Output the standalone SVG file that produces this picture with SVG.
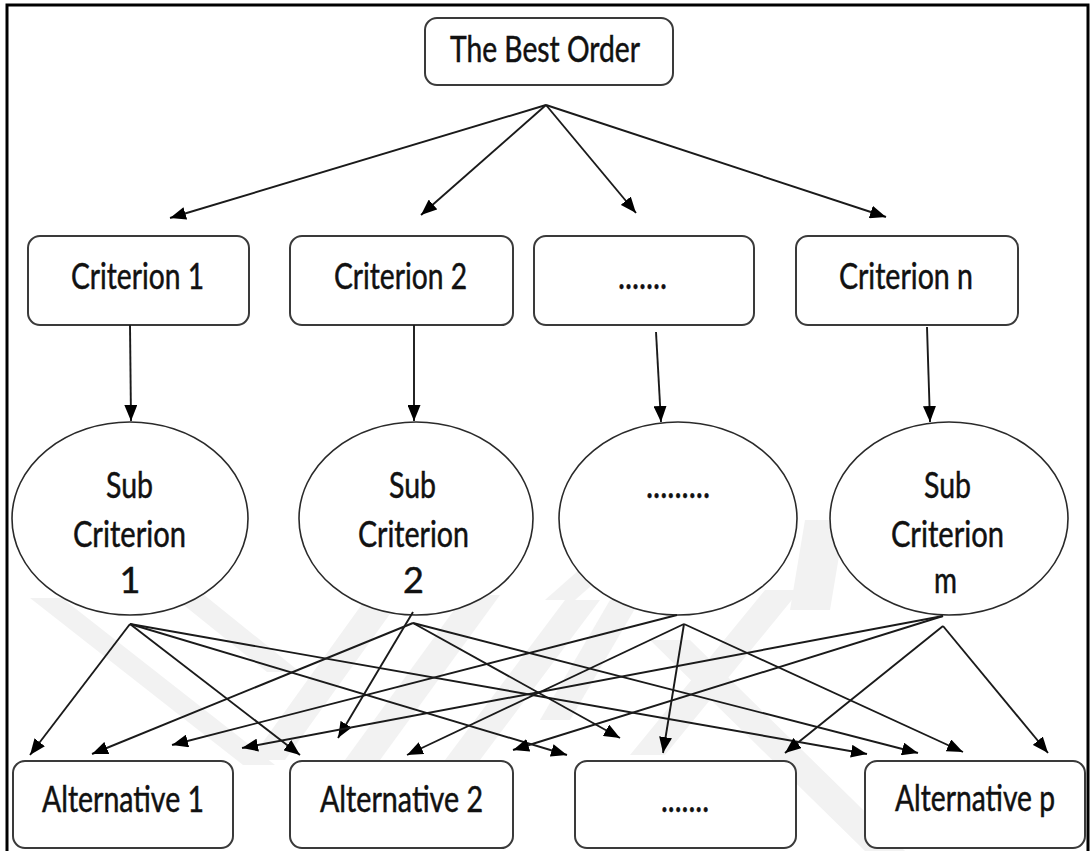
<svg xmlns="http://www.w3.org/2000/svg" width="1090" height="851" viewBox="0 0 1090 851">
  <style>
    .box { fill: #ffffff; stroke: #3a3a3a; stroke-width: 2; }
    .ell { fill: #ffffff; stroke: #2a2a2a; stroke-width: 1.6; }
    .lbl { font-family: Lato, "Liberation Sans", sans-serif; font-size: 36px; fill: #111; stroke: #111; stroke-width: 0.5; text-anchor: middle; }
    .edge { stroke: #1a1a1a; stroke-width: 1.9; fill: none; marker-end: url(#ah); }
    .wm { fill: #f2f2f2; }
  </style>
  <defs>
    <marker id="ah" viewBox="0 0 16 13" refX="16" refY="6.5" markerWidth="16" markerHeight="13" markerUnits="userSpaceOnUse" orient="auto">
      <path d="M0,0 L16,6.5 L0,13 z" fill="#000"/>
    </marker>
  </defs>
  <rect x="0" y="0" width="1090" height="851" fill="#fff"/>

  <g id="watermark">
    <polygon class="wm" points="30,598 62,598 275,765 243,765"/>
    <polygon class="wm" points="165,590 198,590 300,672 267,672"/>
    <polygon class="wm" points="250,760 285,760 400,600 365,600"/>
    <polygon class="wm" points="345,760 380,760 500,595 465,595"/>
    <polygon class="wm" points="445,760 480,760 600,600 565,600"/>
    <polygon class="wm" points="540,720 570,720 640,600 610,600"/>
    <polygon class="wm" points="630,755 665,755 800,590 765,590"/>
    <polygon class="wm" points="650,640 690,640 905,851 865,851"/>
    <polygon class="wm" points="545,600 575,600 660,525 630,525"/>
    <polygon class="wm" points="790,610 830,610 845,520 805,520"/>
  </g>

  <path d="M7,870 L7,5 L1088,5 L1088,870" fill="none" stroke="#000" stroke-width="3"/>

  <g id="n-best">
    <rect class="box" x="425" y="18" width="248" height="67" rx="12"/>
    <text class="lbl" x="545" y="62" textLength="190" lengthAdjust="spacingAndGlyphs">The Best Order</text>
  </g>
  <g id="n-c1">
    <rect class="box" x="28" y="236" width="221" height="89" rx="12"/>
    <text class="lbl" x="137.5" y="289" textLength="133" lengthAdjust="spacingAndGlyphs">Criterion 1</text>
  </g>
  <g id="n-c2">
    <rect class="box" x="290" y="236" width="223" height="89" rx="12"/>
    <text class="lbl" x="400.5" y="289" textLength="133" lengthAdjust="spacingAndGlyphs">Criterion 2</text>
  </g>
  <g id="n-c3">
    <rect class="box" x="534" y="236" width="220" height="89" rx="12"/>
    <text class="lbl" x="642.5" y="289" textLength="49" lengthAdjust="spacingAndGlyphs">.......</text>
  </g>
  <g id="n-cn">
    <rect class="box" x="796" y="236" width="222" height="89" rx="12"/>
    <text class="lbl" x="906" y="289" textLength="134" lengthAdjust="spacingAndGlyphs">Criterion n</text>
  </g>

  <g id="n-s1">
    <ellipse class="ell" cx="130" cy="518.5" rx="118" ry="96.5"/>
    <text class="lbl" x="129.5" y="498" textLength="47" lengthAdjust="spacingAndGlyphs">Sub</text>
    <text class="lbl" x="129.5" y="547" textLength="113" lengthAdjust="spacingAndGlyphs">Criterion</text>
    <text class="lbl" x="130" y="593">1</text>
  </g>
  <g id="n-s2">
    <ellipse class="ell" cx="416" cy="518.5" rx="117" ry="96.5"/>
    <text class="lbl" x="412.5" y="498" textLength="47" lengthAdjust="spacingAndGlyphs">Sub</text>
    <text class="lbl" x="413.5" y="547" textLength="111" lengthAdjust="spacingAndGlyphs">Criterion</text>
    <text class="lbl" x="413.5" y="593">2</text>
  </g>
  <g id="n-s3">
    <ellipse class="ell" cx="678" cy="518.5" rx="119" ry="96.5"/>
    <text class="lbl" x="678" y="498" textLength="64" lengthAdjust="spacingAndGlyphs">.........</text>
  </g>
  <g id="n-sm">
    <ellipse class="ell" cx="949" cy="518.5" rx="119" ry="96.5"/>
    <text class="lbl" x="947.5" y="498" textLength="47" lengthAdjust="spacingAndGlyphs">Sub</text>
    <text class="lbl" x="947.5" y="547" textLength="113" lengthAdjust="spacingAndGlyphs">Criterion</text>
    <text class="lbl" x="945.5" y="593" textLength="23" lengthAdjust="spacingAndGlyphs">m</text>
  </g>

  <g id="n-a1">
    <rect class="box" x="13" y="761" width="220" height="87" rx="12"/>
    <text class="lbl" x="123" y="812" textLength="162" lengthAdjust="spacingAndGlyphs">Alternative 1</text>
  </g>
  <g id="n-a2">
    <rect class="box" x="290" y="761" width="223" height="87" rx="12"/>
    <text class="lbl" x="401.5" y="812" textLength="163" lengthAdjust="spacingAndGlyphs">Alternative 2</text>
  </g>
  <g id="n-a3">
    <rect class="box" x="575" y="761" width="221" height="87" rx="12"/>
    <text class="lbl" x="685" y="812" textLength="48" lengthAdjust="spacingAndGlyphs">.......</text>
  </g>
  <g id="n-ap">
    <rect class="box" x="865" y="761" width="220" height="87" rx="12"/>
    <text class="lbl" x="975" y="811" font-size="35" textLength="160" lengthAdjust="spacingAndGlyphs">Alternative p</text>
  </g>

  <g id="connectors">
    <line class="edge" x1="546" y1="105" x2="170" y2="218"/>
    <line class="edge" x1="546" y1="105" x2="421" y2="215"/>
    <line class="edge" x1="546" y1="105" x2="636" y2="213"/>
    <line class="edge" x1="546" y1="105" x2="886" y2="217"/>

    <line class="edge" x1="130" y1="325" x2="131" y2="421"/>
    <line class="edge" x1="414" y1="325" x2="414" y2="421"/>
    <line class="edge" x1="656" y1="332" x2="661" y2="422"/>
    <line class="edge" x1="927" y1="327" x2="930" y2="422"/>

    <line class="edge" x1="130" y1="624" x2="30" y2="755"/>
    <line class="edge" x1="130" y1="624" x2="300" y2="755"/>
    <line class="edge" x1="130" y1="624" x2="567" y2="755"/>
    <line class="edge" x1="130" y1="624" x2="867" y2="754"/>

    <line class="edge" x1="413" y1="612" x2="338" y2="738"/>
    <line class="edge" x1="413" y1="623" x2="92" y2="754"/>
    <line class="edge" x1="413" y1="623" x2="620" y2="738"/>
    <line class="edge" x1="413" y1="623" x2="918" y2="753"/>

    <line class="edge" x1="677" y1="615" x2="172" y2="745"/>
    <line class="edge" x1="684" y1="624" x2="407" y2="755"/>
    <line class="edge" x1="684" y1="624" x2="663" y2="753"/>
    <line class="edge" x1="684" y1="624" x2="963" y2="752"/>

    <line class="edge" x1="943" y1="616" x2="242" y2="748"/>
    <line class="edge" x1="943" y1="616" x2="513" y2="750"/>
    <line class="edge" x1="943" y1="626" x2="785" y2="753"/>
    <line class="edge" x1="943" y1="626" x2="1048" y2="753"/>
  </g>
</svg>
